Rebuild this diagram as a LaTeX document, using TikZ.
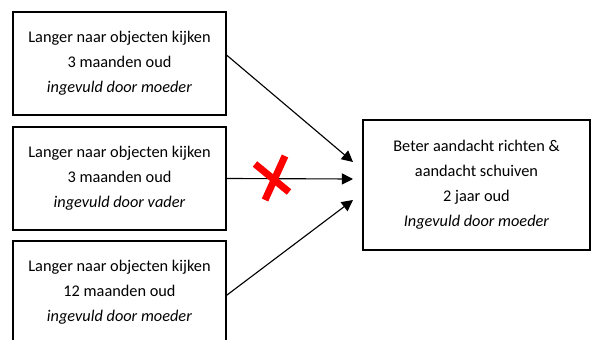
\documentclass[tikz,border=0pt]{standalone}
\usepackage{fontspec}
\setmainfont{Carlito}
\usetikzlibrary{arrows.meta}
\begin{document}
\begin{tikzpicture}[x=0.025cm,y=-0.025cm,
		box/.style={draw,thick,align=center,font=\fontsize{11.6}{17.7}\selectfont},
		lbox/.style={box,minimum width=5.325cm,minimum height=2.575cm},
		arr/.style={thick,-{Triangle[length=2.8mm,width=2.8mm]}}]
		\useasboundingbox (0,0) rectangle (591,340);
		\node[lbox] (b1) at (119.5,63.5) {Langer naar objecten kijken\\3 maanden oud\\\textit{ingevuld door moeder}};
		\node[lbox] (b2) at (119.5,178.5) {Langer naar objecten kijken\\3 maanden oud\\\textit{ingevuld door vader}};
		\node[lbox] (b3) at (119.5,292.5) {Langer naar objecten kijken\\12 maanden oud\\\textit{ingevuld door moeder}};
		\node[box,minimum width=5.675cm,minimum height=3.25cm] (r) at (476.5,185) {Beter aandacht richten \&\\aandacht schuiven\\2 jaar oud\\\textit{Ingevuld door moeder}};
		\coordinate (t1) at (353,162);
		\coordinate (t2) at (353,179);
		\coordinate (t3) at (353,200);
		\draw[arr] ([yshift=6pt]b1.east) -- (t1);
		\draw[arr] (b2.east) -- (t2);
		\draw[arr] ([yshift=-2pt]b3.east) -- (t3);
		\draw[red,line width=5pt] (255,164) -- (289,192) (285,156) -- (265,200);
	\end{tikzpicture}
\end{document}
